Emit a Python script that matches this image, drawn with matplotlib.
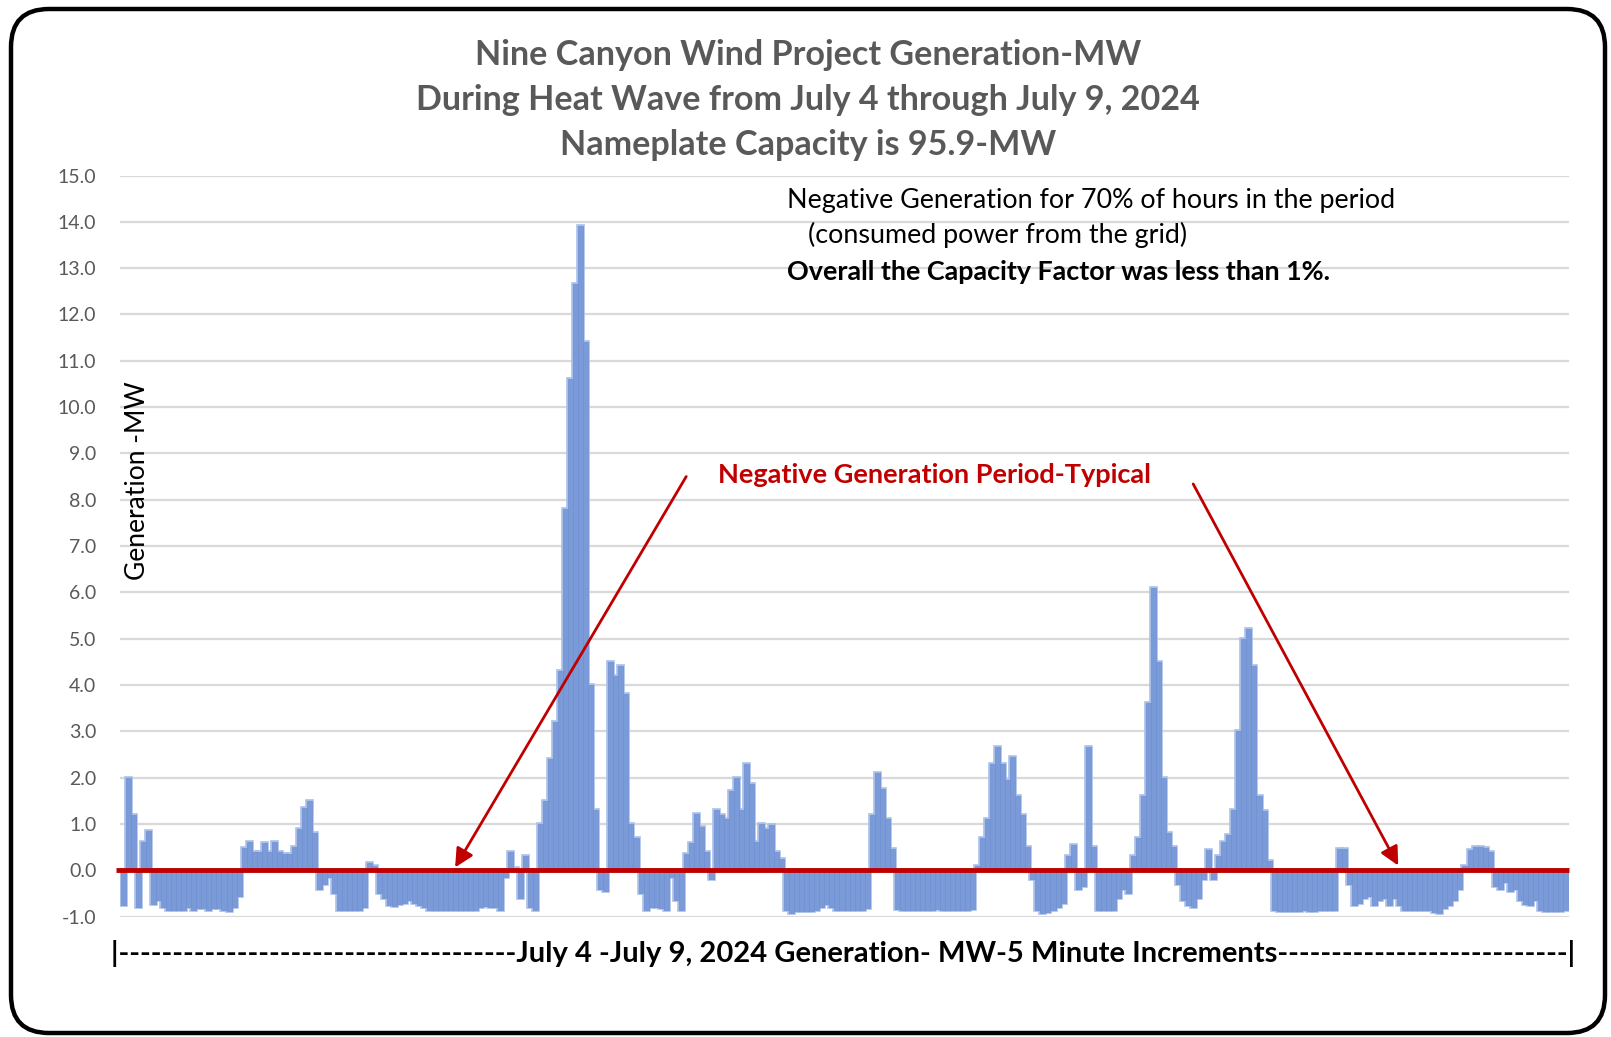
import numpy as np
import matplotlib
matplotlib.use("Agg")
import matplotlib.pyplot as plt
from matplotlib.patches import FancyBboxPatch

# Half-hour readings (MW), one list per day
jul4 = [-0.75, 2.0, 1.2, -0.8, 0.6, 0.85, -0.72, -0.65, -0.8, -0.85,
        -0.85, -0.85, -0.85, -0.8, -0.85, -0.82, -0.82, -0.85, -0.82, -0.82,
        -0.85, -0.88, -0.8, -0.55, 0.47, 0.6, 0.4, 0.4, 0.58, 0.4,
        0.6, 0.4, 0.35, 0.35, 0.5, 0.9, 1.35, 1.5, 0.8, -0.4,
        -0.3, -0.15, -0.5, -0.85, -0.85, -0.85, -0.85, -0.85]
jul5 = [-0.8, 0.15, 0.1, -0.5, -0.6, -0.75, -0.78, -0.72, -0.7, -0.65,
        -0.7, -0.75, -0.8, -0.85, -0.86, -0.86, -0.85, -0.86, -0.86, -0.86,
        -0.85, -0.86, -0.85, -0.8, -0.78, -0.8, -0.8, -0.85, -0.15, 0.4,
        0.05, -0.6, 0.3, -0.8, -0.86, 1.0, 1.5, 2.4, 3.2, 4.3,
        7.8, 10.6, 12.65, 13.9, 11.4, 4.0, 1.3, -0.4]
jul6 = [-0.45, 4.5, 4.2, 4.4, 3.8, 1.0, 0.7, -0.5, -0.85, -0.8,
        -0.8, -0.82, -0.85, -0.15, -0.65, -0.86, 0.35, 0.58, 1.22, 0.94,
        0.4, -0.2, 1.3, 1.2, 1.1, 1.7, 2.0, 1.3, 2.3, 1.87,
        0.6, 1.0, 0.9, 0.97, 0.4, 0.25, -0.86, -0.93, -0.88, -0.88,
        -0.88, -0.88, -0.85, -0.8, -0.72, -0.8, -0.85, -0.85]
jul7 = [-0.85, -0.85, -0.85, -0.85, -0.82, 1.2, 2.1, 1.75, 1.1, 0.45,
        -0.83, -0.85, -0.86, -0.85, -0.85, -0.86, -0.85, -0.85, -0.84, -0.85,
        -0.86, -0.85, -0.85, -0.86, -0.85, -0.84, 0.1, 0.7, 1.1, 2.3,
        2.66, 2.3, 1.95, 2.45, 1.6, 1.2, 0.5, -0.2, -0.85, -0.93,
        -0.9, -0.85, -0.8, -0.7, 0.3, 0.55, -0.4, -0.35]
jul8 = [2.66, 0.5, -0.86, -0.86, -0.86, -0.86, -0.6, -0.4, -0.5, 0.3,
        0.7, 1.6, 3.6, 6.1, 4.5, 2.0, 0.8, 0.5, -0.3, -0.65,
        -0.75, -0.8, -0.6, -0.2, 0.43, -0.2, 0.3, 0.6, 0.77, 1.3,
        3.0, 5.0, 5.2, 4.4, 1.6, 1.27, 0.2, -0.85, -0.88, -0.88,
        -0.88, -0.88, -0.88, -0.87, -0.88, -0.88, -0.86, -0.86]
jul9 = [-0.86, -0.85, 0.45, 0.45, -0.3, -0.75, -0.7, -0.6, -0.55, -0.75,
        -0.65, -0.6, -0.75, -0.6, -0.75, -0.85, -0.86, -0.86, -0.86, -0.86,
        -0.86, -0.9, -0.93, -0.82, -0.75, -0.65, -0.4, 0.1, 0.43, 0.5,
        0.5, 0.48, 0.4, -0.35, -0.4, -0.25, -0.45, -0.4, -0.65, -0.72,
        -0.75, -0.65, -0.86, -0.88, -0.88, -0.88, -0.88, -0.86]

yticks = np.arange(-1.0, 15.01, 1.0)

title = ("Nine Canyon Wind Project Generation-MW\n"
         "During Heat Wave from July 4 through July 9, 2024\n"
         "Nameplate Capacity is 95.9-MW")
note1 = "Negative Generation for 70% of hours in the period"
note2 = "(consumed power from the grid)"
note3 = "Overall the Capacity Factor was less than 1%."
red_note = "Negative Generation Period-Typical"
xlabel = ("|" + "-" * 37 + "July 4 -July 9, 2024 Generation- MW-5 Minute Increments"
          + "-" * 27 + "|")

RED = "#c00000"
GREY = "#595959"
plt.rcParams["font.family"] = ["Lato", "DejaVu Sans"]

gen = np.array(jul4 + jul5 + jul6 + jul7 + jul8 + jul9)
x = np.arange(len(gen))

fig = plt.figure(figsize=(16.11, 10.37), dpi=100)
ax = fig.add_axes([120 / 1611, 120.5 / 1037, 1449 / 1611, 741 / 1037])

# light halo, then the bars themselves
ax.bar(x, gen, width=1.0, color="#a9bfe8", edgecolor="#a9bfe8", linewidth=2.6, zorder=2)
ax.bar(x, gen, width=1.0, color="#7b9bd8", edgecolor="#6f90d2", linewidth=0.5, zorder=3)
ax.plot([-1.5, len(gen) - 0.3], [0, 0], color=RED, lw=3.5, zorder=4, clip_on=False,
        solid_capstyle="butt")

ax.set_xlim(-0.7, len(gen) - 0.3)
ax.set_ylim(-1, 15)
ax.set_yticks(yticks)
ax.set_yticklabels([f"{t:.1f}" for t in yticks], fontsize=14, color=GREY)
ax.tick_params(axis="y", length=0, pad=17)
ax.set_xticks([])
ax.grid(axis="y", color="#d9d9d9", lw=1.6, zorder=0)
ax.set_axisbelow(True)
for s in ax.spines.values():
    s.set_visible(False)

ax.text(2.7, 8.4, "Generation -MW", rotation=90, ha="center", va="center",
        fontsize=19, color="black")

ax.text(132.1, 14.47, note1, fontsize=19.4, va="center", ha="left")
ax.text(136.2, 13.71, note2, fontsize=19.4, va="center", ha="left")
ax.text(132.1, 12.92, note3, fontsize=19.4, va="center", ha="left", fontweight="bold")

ax.text(161.5, 8.53, red_note, fontsize=19.5, color=RED, fontweight="bold",
        ha="center", va="center")
arrow = dict(arrowstyle="-|>", color=RED, lw=2, mutation_scale=28, shrinkA=0, shrinkB=0)
ax.annotate("", xy=(66.0, 0.06), xytext=(112.0, 8.5), arrowprops=arrow, zorder=5)
ax.annotate("", xy=(253.7, 0.1), xytext=(212.9, 8.34), arrowprops=arrow, zorder=5)

fig.text(0.5016, 0.9035, title, ha="center", va="center", fontsize=24.6,
         fontweight="bold", color=GREY, linespacing=1.5)
fig.text(111 / 1611, 0.081, xlabel, ha="left", va="center", fontsize=21,
         fontweight="bold", color="black")

frame = FancyBboxPatch((11, 4), 1594, 1024, boxstyle="round,pad=0,rounding_size=38",
                       transform=None, fill=False, edgecolor="black", lw=3.2)
fig.patches.append(frame)

fig.savefig("out.png", dpi=100)
